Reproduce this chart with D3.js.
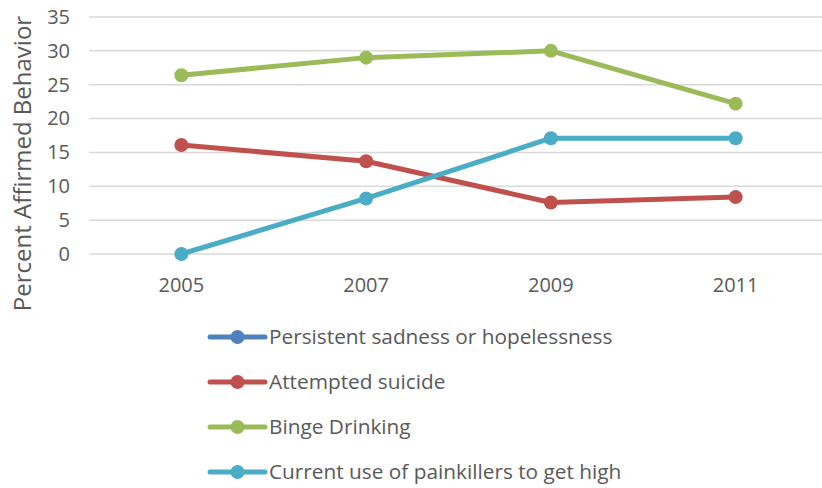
<!DOCTYPE html>
<html>
<head>
<meta charset="utf-8">
<script src="https://cdn.jsdelivr.net/npm/d3@7"></script>
<style>
  html, body { margin: 0; padding: 0; background: #fff; }
  svg { display: block; font-family: "Open Sans", sans-serif; }
</style>
</head>
<body>
<svg id="chart" width="822" height="488"></svg>
<script>
// Survey years and percentage of students affirming each behavior
const years = ["2005", "2007", "2009", "2011"];
const seriesNames = [
  "Persistent sadness or hopelessness",
  "Attempted suicide",
  "Binge Drinking",
  "Current use of painkillers to get high"
];
const seriesColors = ["#4F81BD", "#C0504D", "#9BBB59", "#4BACC6"];
const sadnessValues = [];                    // no values reported
const suicideValues = [16.1, 13.7, 7.6, 8.4];
const bingeValues = [26.4, 29.0, 30.0, 22.2];
const painkillerValues = [0, 8.2, 17.1, 17.1];
const yTicks = [0, 5, 10, 15, 20, 25, 30, 35];

const seriesValues = [sadnessValues, suicideValues, bingeValues, painkillerValues];

const svg = d3.select("#chart");
const plot = { left: 89, right: 828, top: 17, bottom: 254 };
const fontFamily = "'Open Sans', sans-serif";

const x = d3.scaleBand().domain(years).range([plot.left, plot.right]);
const y = d3.scaleLinear().domain([0, 35]).range([plot.bottom, plot.top]);

// Horizontal gridlines
svg.append("g")
  .selectAll("line")
  .data(yTicks)
  .join("line")
  .attr("x1", plot.left).attr("x2", plot.right)
  .attr("y1", d => y(d)).attr("y2", d => y(d))
  .attr("stroke", "#D9D9D9").attr("stroke-width", 1.5);

// Y axis labels
const yAxis = svg.append("g")
  .attr("transform", `translate(${plot.left - 19},0)`)
  .call(d3.axisLeft(y).tickValues(yTicks).tickSize(0).tickPadding(0));
yAxis.select(".domain").remove();
yAxis.selectAll("text")
  .attr("fill", "#595959").style("font-size", "20px")
  .style("font-family", fontFamily);

// X axis labels
const xAxis = svg.append("g")
  .attr("transform", `translate(0,${plot.bottom + 24})`)
  .call(d3.axisBottom(x).tickSize(0).tickPadding(0));
xAxis.select(".domain").remove();
xAxis.selectAll("text")
  .attr("fill", "#595959").style("font-size", "20px")
  .style("font-family", fontFamily);

// Y axis title
svg.append("text")
  .attr("transform", `translate(31,${(17 + 310) / 2}) rotate(-90)`)
  .attr("text-anchor", "middle")
  .attr("fill", "#595959")
  .style("font-size", "24px")
  .text("Percent Affirmed Behavior");

// Series lines and markers
const line = d3.line()
  .x((d, i) => x(years[i]) + x.bandwidth() / 2)
  .y(d => y(d));

seriesValues.forEach((vals, s) => {
  if (!vals.length) return;
  const g = svg.append("g");
  g.append("path")
    .datum(vals)
    .attr("d", line)
    .attr("fill", "none")
    .attr("stroke", seriesColors[s])
    .attr("stroke-width", 5)
    .attr("stroke-linejoin", "round");
  g.selectAll("circle")
    .data(vals)
    .join("circle")
    .attr("cx", (d, i) => x(years[i]) + x.bandwidth() / 2)
    .attr("cy", d => y(d))
    .attr("r", 7)
    .attr("fill", seriesColors[s]);
});

// Legend
const legend = svg.append("g");
const rows = legend.selectAll("g")
  .data(seriesNames)
  .join("g")
  .attr("transform", (d, i) => `translate(210,${337 + i * 45})`);
rows.append("line")
  .attr("x1", 0).attr("x2", 55)
  .attr("stroke", (d, i) => seriesColors[i])
  .attr("stroke-width", 5)
  .attr("stroke-linecap", "round");
rows.append("circle")
  .attr("cx", 27.5).attr("r", 7)
  .attr("fill", (d, i) => seriesColors[i]);
rows.append("text")
  .attr("x", 59).attr("dy", "0.35em")
  .attr("fill", "#595959")
  .style("font-size", "20.8px")
  .text(d => d);
</script>
</body>
</html>
